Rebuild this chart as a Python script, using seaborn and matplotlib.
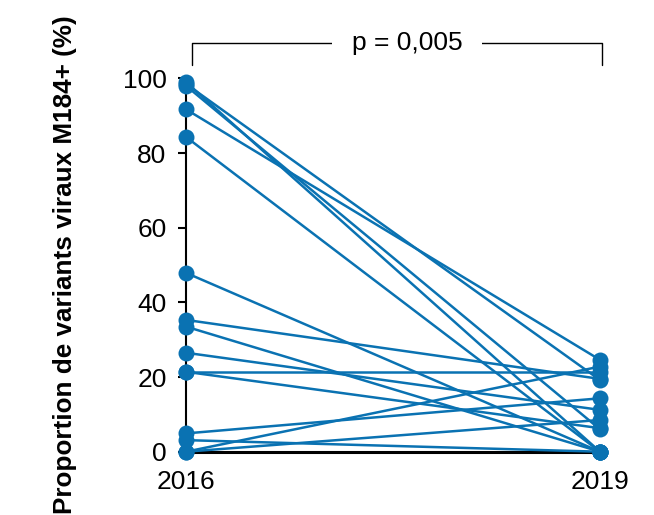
import matplotlib
matplotlib.use("Agg")
import matplotlib.pyplot as plt
import seaborn as sns
import pandas as pd

# Data (paired values per patient)
years = ["2016", "2019"]
values_2016 = [99.0, 98.5, 98.0, 91.7, 84.3, 47.9, 35.3, 33.5, 26.5, 21.4, 21.4, 4.9, 3.1, 0.0, 0.0]
values_2019 = [0.0, 19.2, 6.0, 24.6, 0.0, 0.0, 19.5, 0.0, 11.2, 21.4, 6.3, 14.3, 0.0, 22.8, 8.5]
y_ticks = [0, 20, 40, 60, 80, 100]
y_label = "Proportion de variants viraux M184+ (%)"
p_text = "p = 0,005"

color = "#0A72B2"

rows = []
for i, (a, b) in enumerate(zip(values_2016, values_2019)):
    rows.append({"patient": i, "pos": 0, "value": a})
    rows.append({"patient": i, "pos": 1, "value": b})
df = pd.DataFrame(rows)

sns.set_theme(style="white")
plt.rcParams["font.family"] = ["Liberation Sans", "DejaVu Sans"]

fig = plt.figure(figsize=(6.54, 5.15), dpi=100)
ax = fig.add_axes([0.2844, 0.1229, 0.633, 0.725])

sns.lineplot(data=df, x="pos", y="value", units="patient", estimator=None,
             color=color, linewidth=1.8, marker="o", markersize=11.5,
             markeredgewidth=0, ax=ax, clip_on=False, legend=False)
for line in ax.lines:
    line.set_clip_on(False)
    line.set_zorder(3)

ax.set_xlim(0, 1)
ax.set_ylim(0, 100)
ax.set_xticks([0, 1])
ax.set_xticklabels(years)
ax.set_yticks(y_ticks)
ax.set_yticklabels([str(t) for t in y_ticks])
ax.tick_params(axis="y", length=6, width=1.5, pad=8, labelsize=19, colors="black", left=True)
ax.tick_params(axis="x", length=0, pad=13, labelsize=19, colors="black")
ax.set_xlabel("")
ax.set_ylabel(y_label, fontsize=18.8, fontweight="bold", labelpad=33, color="black")

for s in ["top", "right"]:
    ax.spines[s].set_visible(False)
ax.spines["left"].set_color("black")
ax.spines["left"].set_linewidth(1.5)
ax.spines["bottom"].set_color("black")
ax.spines["bottom"].set_linewidth(2.2)
ax.spines["left"].set_zorder(2)
ax.spines["bottom"].set_zorder(2)

# significance bracket
yb, yd = 1.094, 1.035
x0, x1 = 0.0145, 1.005
ax.plot([x0, x0, x1, x1], [yd, yb, yb, yd], transform=ax.transAxes,
        color="black", linewidth=1.0, clip_on=False)
ax.text(0.534, yb, p_text, transform=ax.transAxes, ha="center", va="center",
        fontsize=19, color="black",
        bbox=dict(facecolor="white", edgecolor="none", pad=14))

fig.savefig("out.png", dpi=100)
